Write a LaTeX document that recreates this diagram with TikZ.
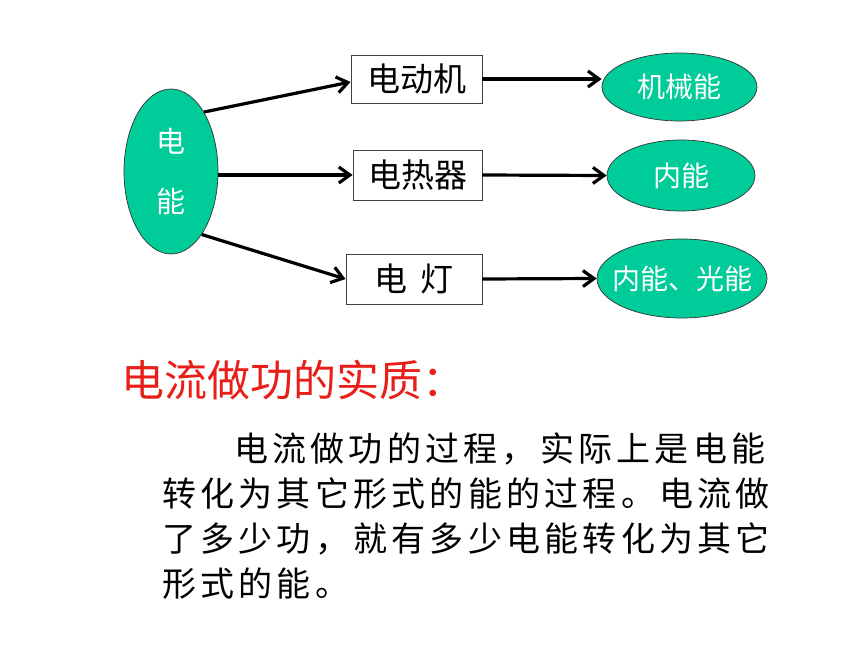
\documentclass[tikz,border=0pt]{standalone}
\usepackage{fontspec}
\setmainfont{Noto Sans CJK SC}
\newfontfamily\bodyfont[LetterSpace=12.5]{Noto Sans CJK SC}
\usepackage{xcolor}
\usetikzlibrary{arrows.meta, shapes}
\definecolor{blobgreen}{RGB}{0,204,153}
\definecolor{titlered}{RGB}{232,30,25}

\begin{document}
\begin{tikzpicture}[x=1pt, y=-1pt]
	\tikzstyle{device} = [draw=black!75, rectangle, line width=0.9pt, inner sep=0pt, font=\fontsize{33}{36}\selectfont]
	\tikzstyle{energy} = [draw=black!80, ellipse, fill=blobgreen, text=white, inner xsep=-30pt, inner ysep=-12pt, line width=0.7pt, font=\fontsize{28}{30}\selectfont]
	\tikzstyle{arrow} = [line width=3.2pt, -{Straight Barb[length=11pt, width=16pt]}]

	\fill[white] (0, 0) rectangle (860, 645);
	\useasboundingbox (0, 0) rectangle (860, 645);

	\node[energy, minimum width=94pt, minimum height=165pt, align=center, font=\fontsize{29}{60}\selectfont]	at (171, 171.5)	(elec)	{电\\能};

	\node[device, minimum width=131pt, minimum height=48pt]	at (416.5, 79)	(motor)		{电动机};
	\node[device, minimum width=129pt, minimum height=50pt]	at (417.5, 175)	(heater)	{电热器};
	\node[device, minimum width=136pt, minimum height=50pt]	at (414, 279)	(lamp)		{电\hspace{14pt}灯};

	\node[energy, minimum width=155pt, minimum height=68pt]	at (679.5, 87)	(mech)		{机械能};
	\node[energy, minimum width=148pt, minimum height=71pt]	at (681, 175.5)	(inner)		{内能};
	\node[energy, minimum width=170pt, minimum height=79pt]	at (682, 278.5)	(innerlight)	{内能、光能};

	\draw [arrow] (elec.61) -- ([yshift=-3pt]motor.west);
	\draw [arrow] (elec.east |- heater.west) -- (heater.west);
	\draw [arrow] (elec.-64) -- (lamp.west);

	\draw [arrow] (motor.east) -- (motor.east -| mech.west);
	\draw [arrow] (heater.east) -- (inner.west);
	\draw [arrow] (lamp.east) -- (innerlight.west);

	\node[anchor=west, text=titlered, inner sep=0pt, font=\fontsize{43}{46}\selectfont]	at (121, 380)	(title)	{电流做功的实质：};
	\node[anchor=north west, inner sep=0pt, align=left, font=\bodyfont\fontsize{34}{45}\selectfont]	at (162, 432)	(body)
		{\hspace*{72pt}电流做功的过程，实际上是电能\\
		转化为其它形式的能的过程。电流做\\
		了多少功，就有多少电能转化为其它\\
		形式的能。};
\end{tikzpicture}
\end{document}
